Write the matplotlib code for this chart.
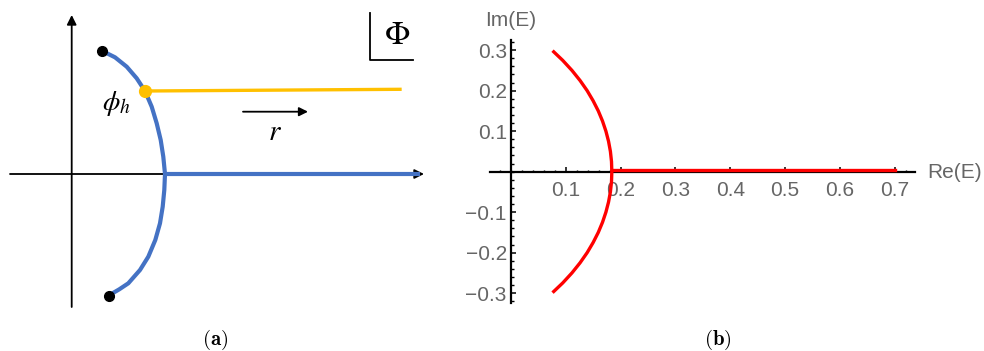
import numpy as np
import matplotlib.pyplot as plt
from matplotlib.ticker import MultipleLocator

plt.rcParams['mathtext.fontset'] = 'cm'

# ---- panel (a): schematic, units relative to the axis crossing ----
arc_u = [0.300, 0.433, 0.550, 0.650, 0.733, 0.800, 0.850, 0.890, 0.916, 0.933,
         0.926, 0.910, 0.883, 0.836, 0.766, 0.683, 0.566, 0.476, 0.370]
arc_v = [1.233, 1.167, 1.073, 0.957, 0.830, 0.673, 0.507, 0.340, 0.173, 0.0,
         -0.160, -0.327, -0.493, -0.660, -0.827, -0.960, -1.093, -1.153, -1.215]
tail_u = [0.933, 3.48]
tail_v = [0.0, 0.0]
horizon_u = [0.733, 3.283]
horizon_v = [0.830, 0.847]
end_points_u = [0.300, 0.370]
end_points_v = [1.233, -1.215]

# ---- panel (b): spectrum ----
re_arc = [0.078, 0.0943, 0.1113, 0.1261, 0.1390, 0.1499, 0.1593, 0.1670, 0.1732,
          0.1780, 0.1814, 0.1834, 0.184, 0.1834, 0.1814, 0.1780, 0.1732, 0.1670,
          0.1593, 0.1499, 0.1390, 0.1261, 0.1113, 0.0943, 0.078]
im_arc = [0.296, 0.275, 0.25, 0.225, 0.2, 0.175, 0.15, 0.125, 0.1, 0.075, 0.05,
          0.025, 0.0, -0.025, -0.05, -0.075, -0.1, -0.125, -0.15, -0.175, -0.2,
          -0.225, -0.25, -0.275, -0.296]
re_line = [0.184, 0.70]
im_line = [0.003, 0.003]
xticks = [0.1, 0.2, 0.3, 0.4, 0.5, 0.6, 0.7]
yticks = [-0.3, -0.2, -0.1, 0.1, 0.2, 0.3]

W, H = 984, 351
fig = plt.figure(figsize=(W / 100, H / 100), dpi=100)

blue = '#4472C4'
gold = '#FFC000'
grey = '#666666'

# panel a axes covers left part, 100 px per unit
axa = fig.add_axes([0, 0, 440 / W, 1])
axa.set_xlim(-0.717, 3.683)
axa.set_ylim(-1.77, 1.74)
axa.axis('off')

arr = dict(arrowstyle='-|>', color='k', lw=1.3, mutation_scale=14, shrinkA=0, shrinkB=0)
axa.annotate('', xy=(3.523, 0), xytext=(-0.617, 0), arrowprops=arr, zorder=1)
axa.annotate('', xy=(0, 1.59), xytext=(0, -1.33), arrowprops=arr, zorder=1)
axa.plot(tail_u, tail_v, color=blue, lw=3.0, zorder=2, solid_capstyle='butt')
axa.plot(arc_u, arc_v, color=blue, lw=3.0, zorder=3, solid_capstyle='round',
         solid_joinstyle='round')
axa.plot(horizon_u, horizon_v, color=gold, lw=2.4, zorder=4)
axa.plot(end_points_u, end_points_v, 'o', color='k', ms=7, zorder=5)
axa.plot(horizon_u[0], horizon_v[0], 'o', color=gold, ms=8.5, zorder=6)
axa.annotate('', xy=(2.363, 0.623), xytext=(1.713, 0.623),
             arrowprops=dict(arrowstyle='-|>', color='k', lw=1.3, mutation_scale=13,
                             shrinkA=0, shrinkB=0))
axa.plot([2.983, 2.983, 3.413], [1.613, 1.14, 1.14], color='k', lw=1.3)
axa.text(3.253, 1.40, r'$\Phi$', fontsize=24, ha='center', va='center',
         math_fontfamily='stix')
axa.text(0.45, 0.70, r'$\phi_{h}$', fontsize=20, ha='center', va='center',
         math_fontfamily='stix')
axa.text(2.033, 0.42, r'$r$', fontsize=21, ha='center', va='center',
         math_fontfamily='stix')

# panel b axes: x 490..915 px, y 40..303 px
x0, x1, y0, y1 = 490, 915, 40, 303
axb = fig.add_axes([x0 / W, 1 - y1 / H, (x1 - x0) / W, (y1 - y0) / H])
axb.set_xlim(-0.0383, 0.7372)
axb.set_ylim(-0.3244, 0.3252)
for s in ['top', 'right']:
    axb.spines[s].set_visible(False)
axb.spines['left'].set_position(('data', 0))
axb.spines['bottom'].set_position(('data', 0))
for s in ['left', 'bottom']:
    axb.spines[s].set_linewidth(1.6)
axb.set_xticks(xticks)
axb.set_yticks(yticks)
axb.set_xticklabels(['{:.1f}'.format(t) for t in xticks])
axb.set_yticklabels(['{:.1f}'.format(t).replace('-', '\u2212') for t in yticks])
axb.xaxis.set_minor_locator(MultipleLocator(0.02))
axb.yaxis.set_minor_locator(MultipleLocator(0.02))
axb.tick_params(which='major', direction='in', length=3.5, width=1.1,
                labelsize=15, colors='k')
axb.tick_params(axis='x', which='major', pad=7, labelcolor=grey)
axb.tick_params(axis='y', which='major', pad=3, labelcolor=grey)
axb.tick_params(which='minor', direction='in', length=1.8, width=1.0)
for lab in axb.get_xticklabels() + axb.get_yticklabels():
    lab.set_family('Liberation Sans')
axb.plot(re_arc, im_arc, color='red', lw=2.4, zorder=5, clip_on=False,
         solid_joinstyle='round')
axb.plot(re_line, im_line, color='red', lw=2.4, zorder=5, clip_on=False)
axb.patch.set_alpha(0)

fig.text(485 / W, 1 - 20.7 / H, 'Im(E)', fontsize=15, color=grey,
         family='Liberation Sans', ha='left', va='center')
fig.text(927 / W, 1 - 172.7 / H, 'Re(E)', fontsize=15, color=grey,
         family='Liberation Sans', ha='left', va='center')

fig.text(215 / W, 1 - 340 / H, r'$\mathbf{(a)}$', fontsize=15, ha='center', va='center')
fig.text(718 / W, 1 - 340 / H, r'$\mathbf{(b)}$', fontsize=15, ha='center', va='center')

fig.savefig('out.png', dpi=100)
